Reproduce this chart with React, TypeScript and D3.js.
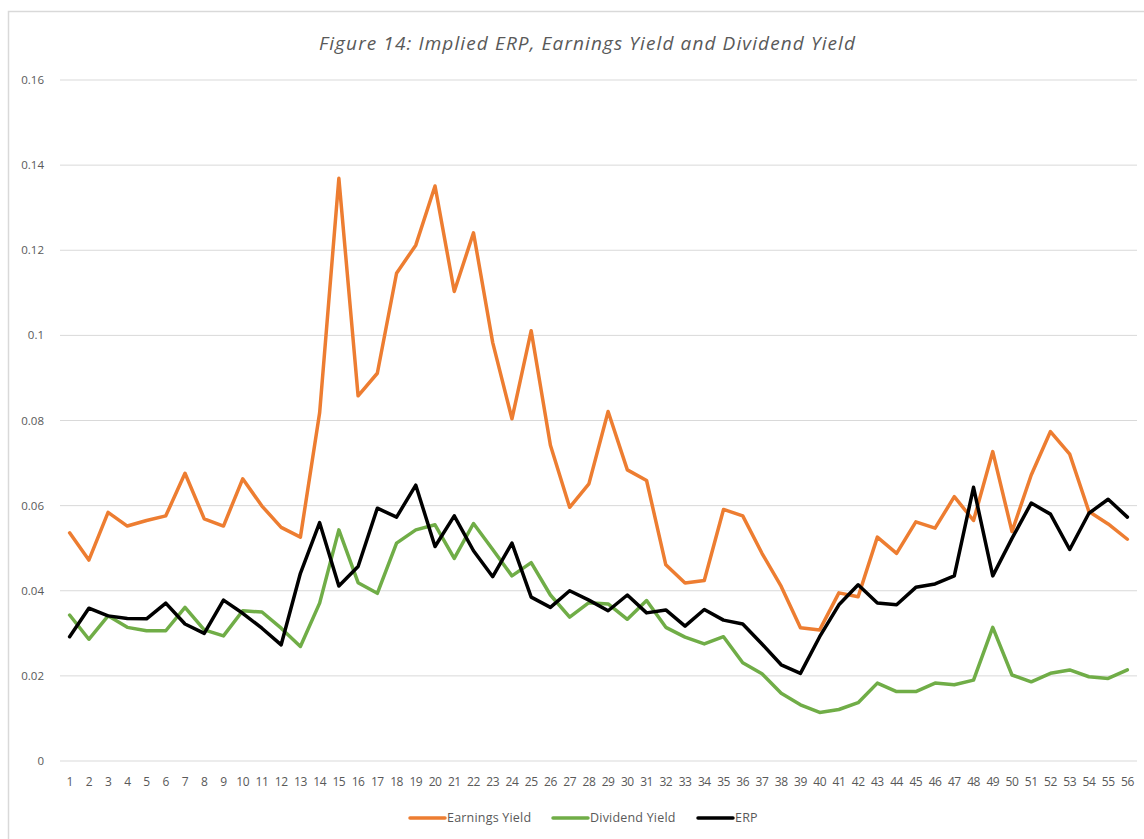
import React, { useEffect, useRef } from 'react';
import * as d3 from 'd3';

const periods = d3.range(1, 57).map(String);

const earningsYield = [
  0.0536, 0.0472, 0.0584, 0.0552, 0.0565, 0.0576, 0.0676, 0.0569, 0.0552, 0.0663,
  0.0599, 0.0549, 0.0526, 0.0818, 0.1369, 0.0858, 0.0911, 0.1146, 0.1212, 0.1351,
  0.1103, 0.1241, 0.0983, 0.0804, 0.1011, 0.0742, 0.0596, 0.0651, 0.0821, 0.0684,
  0.0659, 0.0461, 0.0418, 0.0424, 0.0591, 0.0576, 0.0488, 0.0410, 0.0313, 0.0308,
  0.0395, 0.0386, 0.0526, 0.0488, 0.0562, 0.0547, 0.0621, 0.0565, 0.0727, 0.0539,
  0.0672, 0.0774, 0.0721, 0.0586, 0.0557, 0.0521
];

const dividendYield = [
  0.0343, 0.0286, 0.0341, 0.0314, 0.0306, 0.0306, 0.0361, 0.0308, 0.0294, 0.0353,
  0.0350, 0.0312, 0.0269, 0.0371, 0.0543, 0.0419, 0.0394, 0.0512, 0.0543, 0.0555,
  0.0476, 0.0558, 0.0497, 0.0435, 0.0466, 0.0390, 0.0338, 0.0372, 0.0369, 0.0333,
  0.0377, 0.0314, 0.0291, 0.0275, 0.0292, 0.0231, 0.0205, 0.0159, 0.0132, 0.0114,
  0.0121, 0.0137, 0.0183, 0.0163, 0.0163, 0.0183, 0.0179, 0.0190, 0.0314, 0.0202,
  0.0186, 0.0206, 0.0214, 0.0198, 0.0194, 0.0214
];

const erp = [
  0.0292, 0.0359, 0.0341, 0.0335, 0.0334, 0.0371, 0.0322, 0.0300, 0.0378, 0.0347,
  0.0312, 0.0273, 0.0441, 0.0560, 0.0411, 0.0457, 0.0594, 0.0573, 0.0648, 0.0504,
  0.0576, 0.0494, 0.0433, 0.0512, 0.0385, 0.0361, 0.0400, 0.0378, 0.0353, 0.0390,
  0.0348, 0.0355, 0.0317, 0.0356, 0.0331, 0.0322, 0.0275, 0.0226, 0.0206, 0.0292,
  0.0367, 0.0414, 0.0371, 0.0367, 0.0408, 0.0416, 0.0435, 0.0643, 0.0435, 0.0523,
  0.0606, 0.0580, 0.0497, 0.0582, 0.0615, 0.0573
];

const yTicks = [0, 0.02, 0.04, 0.06, 0.08, 0.1, 0.12, 0.14, 0.16];
const yTickLabels = ['0', '0.02', '0.04', '0.06', '0.08', '0.1', '0.12', '0.14', '0.16'];

const seriesNames = ['Earnings Yield', 'Dividend Yield', 'ERP'];
const seriesColors = ['#ED7D31', '#70AD47', '#000000'];

const W = 1144;
const H = 839;
const font = "'Open Sans', 'Liberation Sans', sans-serif";

const App = () => {
  const ref = useRef<SVGSVGElement | null>(null);

  useEffect(() => {
    const svg = d3.select(ref.current);
    svg.selectAll('*').remove();

    const x = d3.scalePoint<string>().domain(periods).range([60, 1137]).padding(0.5);
    const y = d3.scaleLinear().domain([0, 0.16]).range([761, 80]);

    // chart frame
    svg.append('rect')
      .attr('x', 8.5).attr('y', 11.5)
      .attr('width', W).attr('height', H)
      .attr('fill', '#fff')
      .attr('stroke', '#d9d9d9')
      .attr('stroke-width', 1.5);

    svg.append('text')
      .attr('x', 587).attr('y', 50)
      .attr('text-anchor', 'middle')
      .attr('font-family', font)
      .attr('font-style', 'italic')
      .attr('font-size', 19)
      .attr('textLength', 536)
      .attr('lengthAdjust', 'spacing')
      .attr('fill', '#595959')
      .text('Figure 14: Implied ERP, Earnings Yield and Dividend Yield');

    // gridlines + y labels
    const grid = svg.append('g');
    grid.selectAll('line')
      .data(yTicks)
      .enter()
      .append('line')
      .attr('x1', 60).attr('x2', 1137)
      .attr('y1', d => y(d)).attr('y2', d => y(d))
      .attr('stroke', '#d9d9d9')
      .attr('stroke-width', 1);

    grid.selectAll('text')
      .data(yTicks)
      .enter()
      .append('text')
      .attr('x', 44)
      .attr('y', d => y(d))
      .attr('dy', '0.35em')
      .attr('text-anchor', 'end')
      .attr('font-family', font)
      .attr('font-size', 11.5)
      .attr('fill', '#595959')
      .text((d, i) => yTickLabels[i]);

    // x labels
    svg.append('g')
      .selectAll('text')
      .data(periods)
      .enter()
      .append('text')
      .attr('x', d => x(d) as number)
      .attr('y', 782)
      .attr('dy', '0.35em')
      .attr('text-anchor', 'middle')
      .attr('font-family', font)
      .attr('font-size', 12)
      .attr('letter-spacing', -0.5)
      .attr('fill', '#595959')
      .text(d => d);

    const line = d3.line<number>()
      .x((d, i) => x(periods[i]) as number)
      .y(d => y(d));

    const allSeries = [earningsYield, dividendYield, erp];
    allSeries.forEach((s, i) => {
      svg.append('path')
        .datum(s)
        .attr('d', line)
        .attr('fill', 'none')
        .attr('stroke', seriesColors[i])
        .attr('stroke-width', 3.5)
        .attr('stroke-linejoin', 'round')
        .attr('stroke-linecap', 'round');
    });

    // legend
    const legendX = [410, 553, 698];
    const lg = svg.append('g')
      .selectAll('g')
      .data(seriesNames)
      .enter()
      .append('g')
      .attr('transform', (d, i) => `translate(${legendX[i]},818)`);

    lg.append('line')
      .attr('x1', 0).attr('x2', 35)
      .attr('stroke', (d, i) => seriesColors[i])
      .attr('stroke-width', 3.5)
      .attr('stroke-linecap', 'round');

    lg.append('text')
      .attr('x', 37)
      .attr('dy', '0.35em')
      .attr('font-family', font)
      .attr('font-size', 12.5)
      .attr('letter-spacing', 0.2)
      .attr('fill', '#595959')
      .text(d => d);
  }, []);

  return (
    <svg
      ref={ref}
      width={W}
      height={H}
      style={{ position: 'absolute', left: 0, top: 0, background: '#fff' }}
    />
  );
};

export default App;
